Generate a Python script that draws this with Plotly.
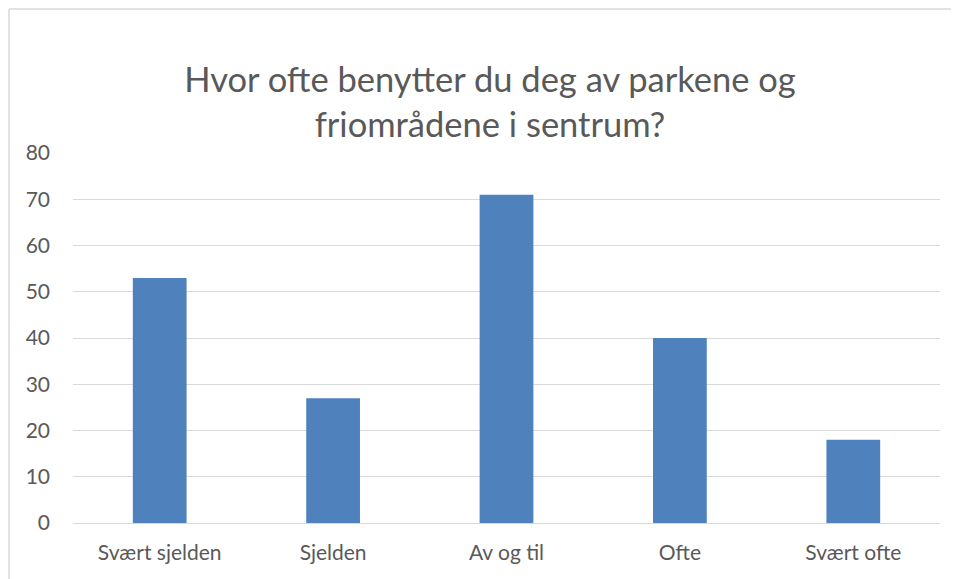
import plotly.graph_objects as go

categories = ["Svært sjelden", "Sjelden", "Av og til", "Ofte", "Svært ofte"]
values = [53, 27, 71, 40, 18]
y_ticks = [0, 10, 20, 30, 40, 50, 60, 70, 80]
title_text = "Hvor ofte benytter du deg av parkene og<br>friområdene i sentrum?"

# page body has an 8px offset; figure coords = screen coords - 8
OFF = 8
W, H = 959, 579
L = 73 - OFF
T = 153 - OFF
R = W - (940 - OFF)
B = H - (523 - OFF)
pw = W - L - R
ph = H - T - B

fig = go.Figure(go.Bar(x=categories, y=values, marker=dict(color="#4F81BD", line=dict(width=0)),
                       width=0.31))

bx0 = (1 - L) / pw
by1 = (H - B - 1) / ph
fig.update_layout(
    width=W, height=H,
    margin=dict(l=L, r=R, t=T, b=B),
    paper_bgcolor="white", plot_bgcolor="white",
    font=dict(family="Lato, Open Sans, sans-serif", color="#595959", size=21),
    title=dict(text=title_text, x=(490 - OFF) / W, xanchor="center", xref="container",
               y=1 - (92 - OFF) / H, yanchor="middle", yref="container",
               font=dict(size=34.5, color="#595959")),
    showlegend=False,
    bargap=0.69,
    xaxis=dict(showgrid=False, showline=False, ticks="", ticklabelstandoff=15,
               tickfont=dict(size=21)),
    yaxis=dict(range=[0, 80], tickvals=y_ticks, showgrid=True, gridcolor="#D9D9D9",
               gridwidth=1, zeroline=True, zerolinecolor="#D9D9D9", zerolinewidth=1,
               showline=False, ticks="", ticklabelstandoff=22, tickfont=dict(size=21)),
    shapes=[
        dict(type="line", xref="paper", yref="paper", x0=bx0, x1=(W + 20 - L) / pw,
             y0=by1, y1=by1, line=dict(color="#D9D9D9", width=1.5), layer="below"),
        dict(type="line", xref="paper", yref="paper", x0=bx0, x1=bx0,
             y0=by1, y1=-(H + 20 - (H - B)) / ph, line=dict(color="#D9D9D9", width=1.5),
             layer="below"),
    ],
)

fig.write_html("out.html")
